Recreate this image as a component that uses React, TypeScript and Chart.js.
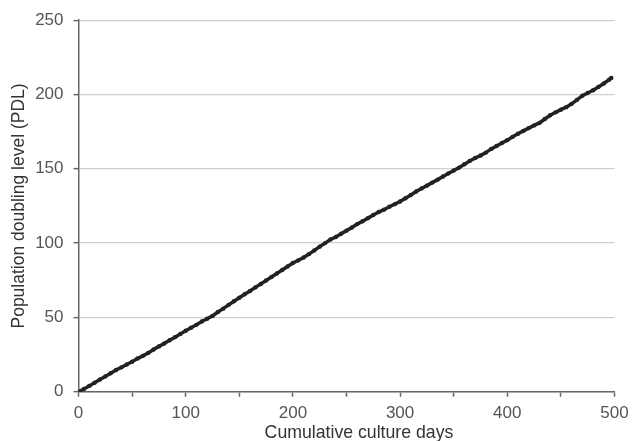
import React, { useEffect, useRef } from "react";
import { Chart, registerables } from "chart.js";

Chart.register(...registerables);

const days: number[] = [
  0, 5, 10, 15, 20, 25, 30, 35, 40, 45, 50, 55, 60, 65, 70, 75, 80, 85, 90, 95,
  100, 105, 110, 115, 120, 125, 130, 135, 140, 145, 150, 155, 160, 165, 170, 175, 180, 185, 190, 195,
  200, 205, 210, 215, 220, 225, 230, 235, 240, 245, 250, 255, 260, 265, 270, 275, 280, 285, 290, 295,
  300, 305, 310, 315, 320, 325, 330, 335, 340, 345, 350, 355, 360, 365, 370, 375, 380, 385, 390, 395,
  400, 405, 410, 415, 420, 425, 430, 435, 440, 445, 450, 455, 460, 465, 470, 475, 480, 485, 490, 495, 497,
];

const pdl: number[] = [
  0, 1.8, 3.9, 6.0, 8.2, 10.3, 12.4, 14.6, 16.4, 18.3, 20.2, 22.3, 24.1, 26.1, 28.4, 30.5, 32.4, 34.6, 36.7, 38.9,
  41.0, 43.0, 45.0, 47.2, 49.1, 51.0, 53.6, 55.9, 58.4, 60.9, 63.2, 65.6, 67.8, 70.2, 72.5, 74.8, 77.2, 79.5, 81.9, 84.3,
  86.6, 88.4, 90.3, 92.6, 95.1, 97.6, 100.0, 102.4, 104.1, 106.3, 108.4, 110.5, 112.8, 114.7, 116.8, 118.9, 120.9, 122.5, 124.5, 126.2,
  128.0, 130.2, 132.4, 134.7, 136.8, 138.7, 140.7, 142.7, 144.8, 146.9, 148.9, 150.8, 153.1, 155.3, 157.3, 158.9, 160.9, 163.4, 165.3, 167.4,
  169.3, 171.5, 173.6, 175.5, 177.4, 179.2, 180.9, 183.5, 186.0, 188.0, 189.8, 191.5, 193.7, 196.4, 199.2, 201.0, 202.9, 205.1, 207.4, 210.0, 211.1,
];

const xTitle = "Cumulative culture days";
const yTitle = "Population doubling level (PDL)";

const FONT = "'Liberation Sans', Arial, sans-serif";

const xTitlePlugin = {
  id: "xTitleText",
  afterDraw(chart: any) {
    const { ctx, chartArea } = chart;
    ctx.save();
    ctx.font = `17.7px ${FONT}`;
    ctx.fillStyle = "#333333";
    ctx.textAlign = "center";
    ctx.textBaseline = "middle";
    ctx.fillText(xTitle, (chartArea.left + chartArea.right) / 2 + 12.5, chartArea.bottom + 41);
    ctx.restore();
  },
};

export default function App() {
  const ref = useRef<HTMLCanvasElement | null>(null);

  useEffect(() => {
    if (!ref.current) return;
    const chart = new Chart(ref.current, {
      type: "scatter",
      data: {
        datasets: [
          {
            data: days.map((d, i) => ({ x: d, y: pdl[i] })),
            showLine: true,
            borderColor: "#222222",
            backgroundColor: "#222222",
            borderWidth: 3.5,
            pointRadius: 2.2,
            pointBorderWidth: 0,
          },
        ],
      },
      plugins: [xTitlePlugin],
      options: {
        animation: false,
        responsive: false,
        maintainAspectRatio: false,
        layout: { padding: { left: 5, right: 17.5, top: 17, bottom: 0 } },
        plugins: { legend: { display: false }, tooltip: { enabled: false } },
        scales: {
          x: {
            type: "linear",
            min: 0,
            max: 500,
            afterFit: (s: any) => {
              s.height = 49.3;
            },
            border: { display: true, color: "#666666", width: 1.5 },
            grid: { drawOnChartArea: false, drawTicks: true, tickLength: 5, tickColor: "#666666", tickWidth: 1.5 },
            ticks: {
              stepSize: 50,
              color: "#555555",
              font: { family: FONT, size: 17, lineHeight: 1.73 },
              padding: 2,
              maxRotation: 0,
              callback: (v: any) => (Number(v) % 100 === 0 ? String(v) : ""),
            },
            title: { display: false },
          },
          y: {
            type: "linear",
            min: 0,
            max: 250,
            afterFit: (s: any) => {
              s.width = 73.5;
            },
            border: { display: true, color: "#666666", width: 1.5 },
            grid: { color: "#d0d0d0", lineWidth: 1.3, tickLength: 5, tickColor: "#666666", tickWidth: 1.5 },
            ticks: {
              stepSize: 50,
              color: "#555555",
              font: { family: FONT, size: 17 },
              padding: 10,
            },
            title: {
              display: true,
              text: yTitle,
              color: "#333333",
              font: { family: FONT, size: 17.5 },
              padding: { top: 4, bottom: 4 },
            },
          },
        },
      },
    });
    return () => chart.destroy();
  }, []);

  return (
    <div style={{ position: "fixed", left: 0, top: 0, width: 632, height: 441, background: "#ffffff" }}>
      <canvas ref={ref} width={632} height={441} style={{ width: 632, height: 441, display: "block" }} />
    </div>
  );
}
